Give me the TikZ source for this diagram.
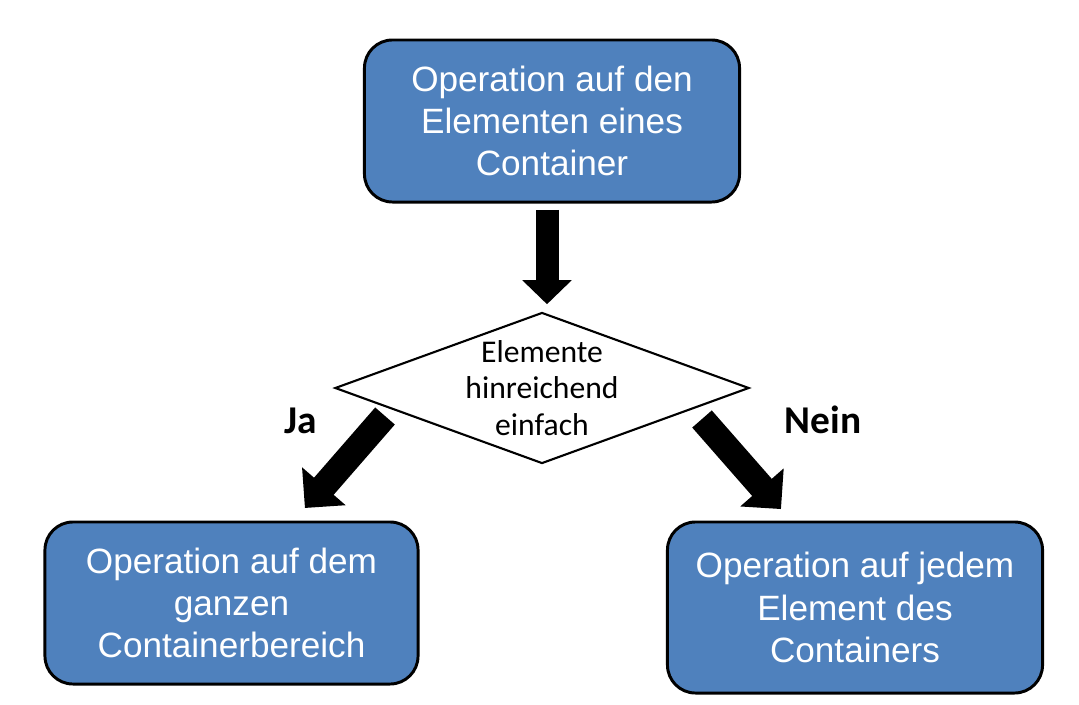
\documentclass[tikz,border=0pt]{standalone}
\usepackage{fontspec}
\setmainfont{Liberation Sans}
\newfontfamily\calibfont{Carlito}
\usepackage{tikz}
\usetikzlibrary{shapes.geometric, arrows.meta, positioning}
\definecolor{opblue}{HTML}{4F81BD}

\begin{document}
\begin{tikzpicture}[x=0.025cm, y=-0.025cm,
        opbox/.style={draw=black, line width=2.1pt, fill=opblue, rounded corners=0.7cm, text=white, align=center, inner sep=0pt, font=\fontsize{25}{30}\selectfont},
        decision/.style={diamond, draw=black, line width=1.5pt, fill=white, align=center, inner xsep=0pt, inner ysep=-0.2cm, aspect=2.74, font=\calibfont\fontsize{22.5}{26}\selectfont},
        answer/.style={font=\calibfont\bfseries\fontsize{28}{32}\selectfont},
        downarrow/.style={line width=0.575cm, -{Triangle[width=1.2cm, length=0.6cm]}},
        sidearrow/.style={line width=0.65cm, -{Triangle[width=1.4cm, length=0.72cm]}}]
        \useasboundingbox (0,0) rectangle (1079,704);

        % Start (operation on container)
        \node[opbox, minimum width=9.375cm, minimum height=4.05cm] (top) at (552,121) {Operation auf den\\Elementen eines\\Container};

        % Decision
        \node[decision, minimum width=10.35cm, minimum height=3.775cm] (dec) at (542,388) {Elemente\\hinreichend\\einfach};

        % Results
        \node[opbox, minimum width=9.325cm, minimum height=4.05cm] (whole) at (231.5,603) {Operation auf dem\\ganzen\\Containerbereich};
        \node[opbox, minimum width=9.375cm, minimum height=4.275cm] (each) at (855,607.5) {Operation auf jedem\\Element des\\Containers};

        % Answers
        \node[answer] (ja) at (301,421) {Ja};
        \node[answer] (nein) at (823,420) {Nein};

        % Block arrows
        \coordinate (ja tail) at (385,416);
        \coordinate (nein tail) at (702,419);
        \draw[downarrow, shorten <=0.16cm, shorten >=0.18cm] ([xshift=-0.125cm]top.south) -- ([xshift=-0.125cm]top.south |- dec.north);
        \draw[sidearrow, shorten >=0.415cm] (ja tail) -- ([xshift=1.5625cm]whole.north);
        \draw[sidearrow, shorten >=0.38cm] (nein tail) -- ([xshift=-1.6cm]each.north);
    \end{tikzpicture}
\end{document}
